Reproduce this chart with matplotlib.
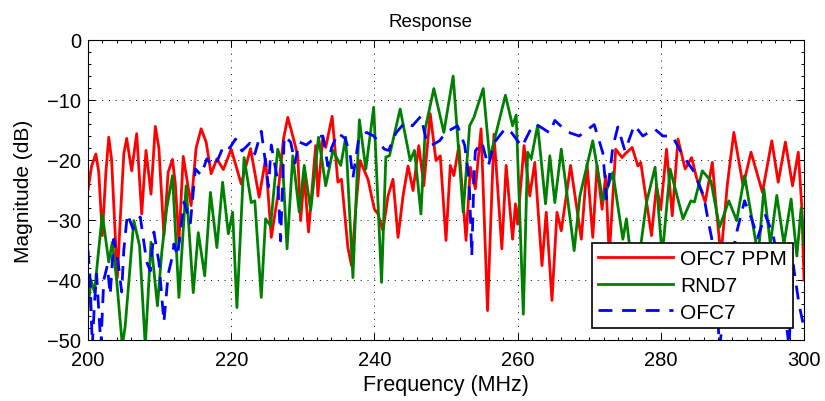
import numpy as np
import matplotlib
matplotlib.use("Agg")
import matplotlib.pyplot as plt
from matplotlib.ticker import MultipleLocator

plt.rcParams['font.family'] = ['Liberation Sans', 'DejaVu Sans']

# ---- OFC7 PPM (red) ----
f_ppm = [200.0, 200.5, 201.1, 201.5, 202.0, 202.5, 202.9, 203.3, 203.7, 204.1,
         204.5, 205.0, 205.4, 206.1, 206.8, 207.5, 208.1, 208.8, 209.4, 209.9,
         210.6, 211.2, 211.8, 212.2, 212.7, 213.3, 214.4, 215.1, 215.8, 216.5,
         217.2, 218.0, 218.9, 220.0, 221.4, 222.7, 223.9, 224.8, 225.6, 226.5,
         227.3, 227.9, 228.6, 229.3, 229.7, 230.2, 230.8, 231.8, 232.1, 232.8,
         233.2, 234.1, 234.9, 235.4, 236.3, 236.8, 237.4, 238.0, 239.1, 240.0,
         240.5, 241.2, 241.9, 242.6, 243.3, 244.0, 244.7, 245.4, 246.2, 246.9,
         247.8, 248.6, 249.2, 250.0, 250.6, 251.1, 251.8, 252.8, 253.4, 254.1,
         254.9, 255.8, 256.7, 257.8, 258.4, 259.3, 259.7, 260.0, 260.9, 261.7,
         262.4, 263.4, 264.0, 264.8, 265.5, 266.1, 267.4, 268.9, 269.7, 270.5,
         271.1, 271.8, 272.3, 272.8, 273.7, 274.6, 275.0, 276.0, 276.8, 277.2,
         278.7, 279.4, 280.0, 280.8, 281.6, 282.4, 283.4, 284.3, 285.0, 286.2,
         287.2, 287.7, 288.4, 289.3, 290.2, 291.5, 292.6, 294.2, 295.5, 296.4,
         297.4, 298.4, 299.2, 299.7, 300.0]
ppm_db = [-25.0, -21.0, -19.0, -22.0, -32.6, -22.0, -16.2, -20.0, -30.0, -39.6,
          -30.0, -19.0, -16.4, -21.8, -15.6, -29.0, -18.4, -25.7, -14.4, -18.0,
          -32.6, -22.0, -19.9, -24.0, -33.7, -19.4, -27.6, -18.0, -14.8, -17.0,
          -22.3, -19.8, -21.6, -18.2, -24.0, -18.1, -26.2, -19.8, -32.9, -26.0,
          -16.5, -12.9, -16.0, -19.3, -30.1, -22.6, -32.0, -17.6, -26.0, -16.2,
          -17.9, -12.7, -23.7, -23.2, -34.6, -37.6, -28.0, -20.1, -23.2, -28.2,
          -29.0, -31.8, -26.0, -23.2, -32.9, -26.0, -21.0, -25.1, -17.6, -24.3,
          -12.3, -20.1, -19.3, -33.4, -20.9, -22.6, -17.6, -33.4, -21.2, -24.8,
          -14.8, -45.1, -15.7, -34.8, -20.9, -33.2, -27.3, -30.7, -17.6, -26.0,
          -20.4, -37.6, -28.7, -43.4, -28.7, -31.8, -20.9, -33.2, -20.7, -32.9,
          -20.9, -28.2, -22.6, -36.0, -18.2, -19.6, -19.0, -17.9, -21.0, -20.4,
          -32.6, -24.3, -28.2, -18.2, -29.3, -16.5, -21.5, -19.6, -23.0, -27.0,
          -20.4, -27.5, -36.0, -24.0, -15.4, -24.3, -18.7, -25.4, -16.8, -23.7,
          -17.0, -24.3, -18.7, -28.0, -40.0]

# ---- RND7 (green) ----
f_rnd = [200.0, 200.4, 200.9, 202.0, 202.9, 203.4, 204.0, 204.8, 205.2, 206.4,
         207.2, 208.0, 208.8, 209.7, 210.3, 211.0, 211.8, 212.7, 213.7, 214.7,
         215.4, 216.3, 217.1, 218.0, 218.8, 219.6, 220.2, 220.8, 221.8, 222.8,
         223.3, 224.2, 224.8, 225.5, 226.5, 227.2, 227.8, 228.6, 229.5, 230.2,
         231.1, 232.2, 233.2, 234.2, 235.3, 236.0, 237.0, 237.9, 238.8, 239.9,
         241.0, 241.6, 242.1, 243.6, 245.0, 245.6, 246.5, 247.1, 248.3, 249.7,
         251.0, 252.4, 253.3, 253.9, 255.2, 256.1, 258.3, 259.3, 259.8, 260.8,
         261.4, 261.9, 262.8, 263.9, 264.5, 265.2, 266.1, 267.9, 268.7, 270.5,
         271.9, 273.3, 274.7, 275.2, 275.8, 277.0, 278.0, 279.2, 280.2, 281.3,
         283.1, 284.2, 284.7, 285.8, 287.0, 288.2, 289.5, 290.6, 291.7, 293.6,
         294.4, 295.3, 296.2, 297.2, 298.2, 299.0, 299.6, 300.0]
rnd_db = [-45.0, -40.0, -42.0, -29.0, -37.0, -33.7, -40.0, -51.0, -47.6, -30.1,
          -34.3, -51.0, -33.7, -44.3, -35.4, -28.0, -22.6, -42.9, -24.3, -42.1,
          -32.1, -39.3, -25.4, -34.6, -23.7, -32.3, -28.7, -44.6, -19.6, -27.1,
          -26.8, -42.9, -29.8, -31.0, -18.2, -21.0, -34.8, -19.3, -28.7, -20.9,
          -28.4, -16.2, -24.3, -18.4, -20.9, -16.2, -39.6, -13.3, -21.5, -11.2,
          -40.4, -19.5, -19.3, -11.5, -20.1, -18.4, -29.0, -14.8, -8.1, -15.4,
          -6.0, -28.7, -14.3, -12.9, -8.1, -19.8, -9.2, -14.3, -12.5, -45.7,
          -18.7, -19.8, -14.2, -27.3, -19.3, -27.1, -18.2, -35.1, -26.0, -16.8,
          -26.8, -22.1, -33.2, -29.8, -36.0, -36.0, -27.1, -21.2, -36.0, -21.5,
          -29.8, -26.8, -27.0, -21.8, -23.5, -31.2, -26.8, -30.1, -22.6, -36.0,
          -24.8, -34.0, -25.9, -34.0, -26.5, -36.0, -28.0, -34.0]

# ---- OFC7 (blue dashed) ----
f_ofc = [200.0, 200.3, 200.6, 200.9, 201.2, 201.5, 201.8, 202.2, 202.7, 203.1,
         203.6, 204.2, 204.7, 205.0, 205.5, 206.3, 207.3, 208.2, 208.7, 209.2,
         209.9, 210.6, 211.2, 211.8, 212.0, 212.5, 213.4, 214.3, 215.0, 215.8,
         216.6, 217.4, 218.1, 219.0, 219.8, 220.6, 221.5, 222.6, 223.3, 224.2,
         224.8, 225.2, 225.6, 226.5, 226.9, 227.4, 228.3, 228.9, 229.5, 230.5,
         231.2, 231.9, 232.8, 233.5, 234.0, 234.9, 235.9, 236.6, 237.0, 237.8,
         238.9, 239.9, 241.4, 242.0, 243.0, 244.3, 245.3, 246.5, 247.2, 247.9,
         249.1, 250.0, 251.6, 252.6, 253.1, 253.3, 253.6, 253.9, 254.1, 255.0,
         255.9, 256.8, 258.3, 259.2, 260.6, 261.9, 262.5, 263.6, 264.5, 265.2,
         266.9, 268.6, 270.7, 271.9, 272.2, 272.4, 272.9, 273.3, 274.0, 275.0,
         276.3, 277.5, 279.1, 280.3, 281.6, 283.2, 284.5, 286.0, 286.6, 287.1,
         287.7, 288.2, 289.5, 290.5, 291.7, 292.8, 293.5, 294.6, 295.7, 296.8,
         297.9, 298.5, 299.3, 300.0]
ofc_db = [-35.0, -40.0, -51.0, -44.0, -39.0, -45.0, -51.0, -40.0, -37.6, -42.5,
          -33.2, -37.0, -42.0, -35.0, -29.0, -31.5, -29.5, -37.0, -38.5, -32.0,
          -37.0, -47.0, -39.0, -36.0, -34.0, -36.0, -27.0, -30.5, -21.5, -22.5,
          -19.8, -21.0, -20.0, -17.5, -18.0, -16.5, -18.5, -17.2, -19.0, -15.2,
          -20.5, -24.5, -17.5, -23.5, -33.5, -16.0, -17.0, -20.5, -17.0, -17.5,
          -16.8, -16.2, -16.0, -21.0, -18.0, -15.5, -16.4, -19.0, -23.0, -16.5,
          -15.4, -16.0, -18.2, -18.4, -15.5, -13.7, -14.3, -12.7, -16.5, -17.6,
          -16.8, -15.4, -14.3, -17.5, -22.0, -25.5, -36.0, -23.0, -18.5, -17.0,
          -21.0, -17.0, -14.7, -15.5, -17.8, -14.7, -14.0, -14.8, -15.5, -13.4,
          -15.3, -16.0, -14.1, -18.8, -23.0, -26.5, -22.0, -17.8, -14.5, -18.5,
          -14.2, -16.0, -14.8, -16.0, -16.0, -19.5, -21.7, -26.0, -30.0, -33.0,
          -42.0, -51.0, -40.0, -32.5, -26.8, -30.2, -33.0, -29.2, -32.5, -40.0,
          -51.0, -37.5, -44.0, -48.0]

fig = plt.figure(figsize=(8.25, 4.02), dpi=100)
ax = fig.add_axes([88/825, 1-341/402, 716/825, 300/402])

ax.plot(f_ppm, ppm_db, color=(1, 0, 0), lw=2, label='OFC7 PPM')
ax.plot(f_rnd, rnd_db, color=(0, 0.5, 0), lw=2, label='RND7')
ax.plot(f_ofc, ofc_db, color=(0, 0, 1), lw=2, dashes=(5, 3.5), label='OFC7')

ax.set_xlim(200, 300)
ax.set_ylim(-50, 0)
ax.xaxis.set_major_locator(MultipleLocator(20))
ax.xaxis.set_minor_locator(MultipleLocator(2))
ax.yaxis.set_major_locator(MultipleLocator(10))
ax.yaxis.set_minor_locator(MultipleLocator(2))
ax.tick_params(which='both', direction='in', top=True, right=True, width=0.7)
ax.tick_params(which='major', length=5, labelsize=14.5)
ax.tick_params(which='minor', length=2.5)
ax.tick_params(axis='x', pad=7)
ax.tick_params(axis='y', pad=5)
ax.grid(True, which='major', color='k', lw=0.7, linestyle=(0, (1, 6)))
for s in ax.spines.values():
    s.set_linewidth(0.8)

ax.set_title('Response', fontsize=13.5, pad=10, x=0.479)
ax.set_xlabel('Frequency (MHz)', fontsize=15.5)
ax.set_ylabel('Magnitude (dB)', fontsize=15)
ax.xaxis.set_label_coords(0.5, -0.115)
ax.yaxis.set_label_coords(-0.077, 0.5)

leg = ax.legend(loc='lower right', bbox_to_anchor=(0.985, 0.04), borderaxespad=0,
                fontsize=15, fancybox=False, framealpha=1, edgecolor='k',
                handlelength=3.6, labelspacing=0.38, borderpad=0.3, handletextpad=0.35)
leg.get_frame().set_linewidth(1.2)

fig.savefig('out.png', dpi=100)
